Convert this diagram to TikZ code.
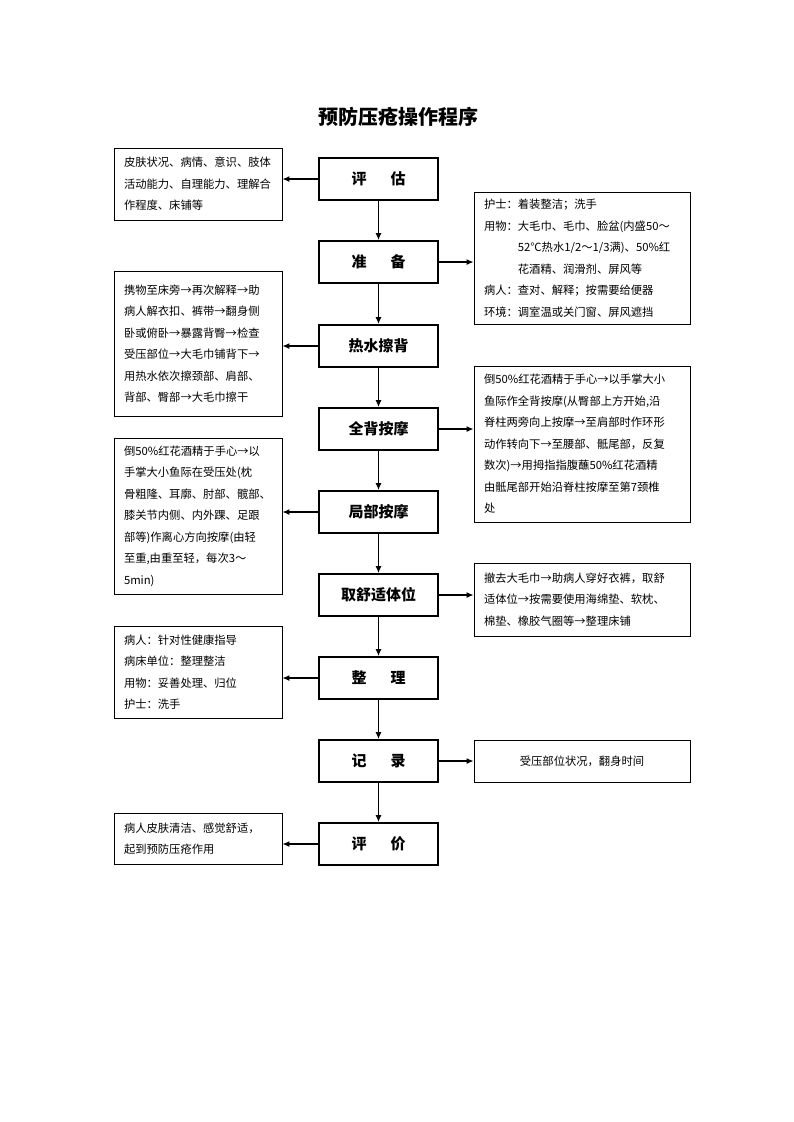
\documentclass[tikz,border=0pt]{standalone}
\usepackage{fontspec}
\setmainfont{Noto Sans CJK SC}
\usetikzlibrary{arrows.meta}
\begin{document}
\begin{tikzpicture}[x=1pt,y=-1pt,
  mainbox/.style={draw,line width=1.8pt,minimum width=119pt,minimum height=42pt,inner sep=0pt,font=\fontsize{15}{18}\selectfont\bfseries},
  sidebox/.style={draw,line width=0.9pt,inner xsep=10pt,inner ysep=0pt,align=left,font=\fontsize{11.3}{21.5}\selectfont},
  arr/.style={line width=1.2pt,-{Latex[length=7pt,width=6pt]}}]
\useasboundingbox (0,0) rectangle (793,1122);
\node[font=\fontsize{20}{24}\selectfont\bfseries] (title) at (398,117) {预防压疮操作程序};
% main boxes
\node[mainbox] (m1) at (378.5,179) {评\hspace{1.6em}估};
\node[mainbox] (m2) at (378.5,262) {准\hspace{1.6em}备};
\node[mainbox] (m3) at (378.5,346) {热水擦背};
\node[mainbox] (m4) at (378.5,429) {全背按摩};
\node[mainbox] (m5) at (378.5,512) {局部按摩};
\node[mainbox] (m6) at (378.5,595) {取舒适体位};
\node[mainbox] (m7) at (378.5,678) {整\hspace{1.6em}理};
\node[mainbox] (m8) at (378.5,761) {记\hspace{1.6em}录};
\node[mainbox] (m9) at (378.5,844) {评\hspace{1.6em}价};
% left side boxes
\node[sidebox,text width=148pt,minimum height=72pt] (s1) at (198,184) {皮肤状况、病情、意识、肢体\\活动能力、自理能力、理解合\\作程度、床铺等};
\node[sidebox,text width=148pt,minimum height=145pt] (s3) at (198,343.5) {携物至床旁→再次解释→助\\病人解衣扣、裤带→翻身侧\\卧或俯卧→暴露背臀→检查\\受压部位→大毛巾铺背下→\\用热水依次擦颈部、肩部、\\背部、臀部→大毛巾擦干};
\node[sidebox,text width=148pt,minimum height=156pt] (s5) at (198,516) {倒50\%红花酒精于手心→以\\手掌大小鱼际在受压处(枕\\骨粗隆、耳廓、肘部、髋部、\\膝关节内侧、内外踝、足跟\\部等)作离心方向按摩(由轻\\至重,由重至轻，每次3～\\5min)};
\node[sidebox,text width=148pt,minimum height=92pt] (s7) at (198,672) {病人：针对性健康指导\\病床单位：整理整洁\\用物：妥善处理、归位\\护士：洗手};
\node[sidebox,text width=148pt,minimum height=51pt] (s9) at (198,838.5) {病人皮肤清洁、感觉舒适，\\起到预防压疮作用};
% right side boxes
\node[sidebox,text width=196pt,minimum height=132pt] (s2) at (582,258) {护士：着装整洁；洗手\\用物：大毛巾、毛巾、脸盆(内盛50～\\\phantom{用物：}52℃热水1/2～1/3满)、50\%红\\\phantom{用物：}花酒精、润滑剂、屏风等\\病人：查对、解释；按需要给便器\\环境：调室温或关门窗、屏风遮挡};
\node[sidebox,text width=196pt,minimum height=156pt] (s4) at (582,444) {倒50\%红花酒精于手心→以手掌大小\\鱼际作全背按摩(从臀部上方开始,沿\\脊柱两旁向上按摩→至肩部时作环形\\动作转向下→至腰部、骶尾部，反复\\数次)→用拇指指腹蘸50\%红花酒精\\由骶尾部开始沿脊柱按摩至第7颈椎\\处};
\node[sidebox,text width=196pt,minimum height=73pt] (s6) at (582,599.5) {撤去大毛巾→助病人穿好衣裤，取舒\\适体位→按需要使用海绵垫、软枕、\\棉垫、橡胶气圈等→整理床铺};
\node[sidebox,text width=196pt,minimum height=42pt,align=center] (s8) at (582,761) {受压部位状况，翻身时间};
% vertical arrows
\foreach \a/\b in {m1/m2,m2/m3,m3/m4,m4/m5,m5/m6,m6/m7,m7/m8,m8/m9}
  \draw[arr] (\a) -- (\b);
% left arrows
\foreach \m/\s in {m1/s1,m3/s3,m5/s5,m7/s7,m9/s9}
  \draw[arr] (\m.west) -- (\m.west -| \s.east);
% right arrows
\foreach \m/\s in {m2/s2,m4/s4,m6/s6,m8/s8}
  \draw[arr] (\m.east) -- (\m.east -| \s.west);
\end{tikzpicture}
\end{document}
